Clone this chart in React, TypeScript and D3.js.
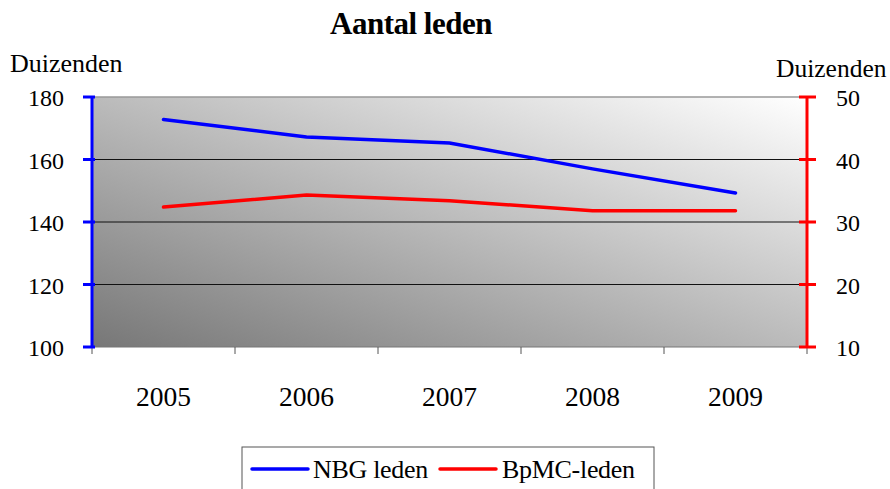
import React from "react";
import * as d3 from "d3";

const years = ["2005", "2006", "2007", "2008", "2009"];
const nbg = [172.8, 167.2, 165.3, 157.0, 149.3];
const bpmc = [32.4, 34.3, 33.4, 31.8, 31.8];
const leftTicks = [100, 120, 140, 160, 180];
const rightTicks = [10, 20, 30, 40, 50];

const W = 890, H = 489;
const L = 92, R = 807, T = 97, B = 347;
const FONT = "Liberation Serif";

export default function App() {
  const x = d3.scaleBand().domain(years).range([L, R]);
  const yl = d3.scaleLinear().domain([100, 180]).range([B, T]);
  const yr = d3.scaleLinear().domain([10, 50]).range([B, T]);
  const cx = (d: string) => (x(d) as number) + x.bandwidth() / 2;
  const lineL = d3.line<number>().x((_, i) => cx(years[i])).y((v) => yl(v));
  const lineR = d3.line<number>().x((_, i) => cx(years[i])).y((v) => yr(v));
  const bounds = [...years.map((y) => x(y) as number), R];
  const ts = { fontFamily: FONT };

  return (
    <svg width={W} height={H} style={{ position: "absolute", left: 0, top: 0, fontFamily: FONT }}>
      <defs>
        <linearGradient id="bg" x1="0" y1="1" x2="1" y2="0">
          <stop offset="0" stopColor="#777777" />
          <stop offset="1" stopColor="#ffffff" />
        </linearGradient>
      </defs>
      <rect x={0} y={0} width={W} height={H} fill="#fff" />
      <text style={ts} x={411} y={34} textAnchor="middle" fontSize={31} fontWeight="bold" letterSpacing={-0.5}>Aantal leden</text>
      <text style={ts} x={10} y={72} fontSize={26}>Duizenden</text>
      <text style={ts} x={776} y={77} fontSize={25.5}>Duizenden</text>
      <rect x={L} y={T} width={R - L} height={B - T} fill="url(#bg)" />
      <line x1={L} x2={R} y1={T} y2={T} stroke="#999" strokeWidth={1.5} />
      {leftTicks.slice(1, -1).map((t) => (
        <line key={t} x1={L} x2={R} y1={yl(t)} y2={yl(t)} stroke="#111" strokeWidth={1} />
      ))}
      <line x1={L} x2={R} y1={B} y2={B} stroke="#777" strokeWidth={1} />
      {bounds.map((b, i) => (
        <line key={i} x1={b} x2={b} y1={B} y2={B + 7} stroke="#555" strokeWidth={1} />
      ))}
      {years.map((y) => (
        <text style={ts} key={y} x={cx(y)} y={406} textAnchor="middle" fontSize={27.5}>{y}</text>
      ))}
      <line x1={L} x2={L} y1={T} y2={B} stroke="#0000ff" strokeWidth={3} />
      {leftTicks.map((t) => (
        <g key={t}>
          <line x1={L - 9} x2={L + 3} y1={yl(t)} y2={yl(t)} stroke="#0000ff" strokeWidth={3} />
          <text style={ts} x={64} y={yl(t) + 9} textAnchor="end" fontSize={24}>{t}</text>
        </g>
      ))}
      <line x1={R} x2={R} y1={T} y2={B} stroke="#ff0000" strokeWidth={3} />
      {rightTicks.map((t) => (
        <g key={t}>
          <line x1={R - 8} x2={R + 9} y1={yr(t)} y2={yr(t)} stroke="#ff0000" strokeWidth={3} />
          <text style={ts} x={836} y={yr(t) + 9} textAnchor="start" fontSize={24}>{t}</text>
        </g>
      ))}
      <path d={lineL(nbg) || ""} fill="none" stroke="#0000ff" strokeWidth={3.5} strokeLinecap="round" />
      <path d={lineR(bpmc) || ""} fill="none" stroke="#ff0000" strokeWidth={3.5} strokeLinecap="round" />
      <rect x={242} y={447} width={412} height={50} fill="#fff" stroke="#555" strokeWidth={1} />
      <line x1={252} x2={308} y1={469} y2={469} stroke="#0000ff" strokeWidth={3.5} strokeLinecap="round" />
      <text style={ts} x={313} y={478} fontSize={26} letterSpacing={-0.3}>NBG leden</text>
      <line x1={440} x2={496} y1={469} y2={469} stroke="#ff0000" strokeWidth={3.5} strokeLinecap="round" />
      <text style={ts} x={502} y={478} fontSize={26} letterSpacing={-0.3}>BpMC-leden</text>
    </svg>
  );
}
